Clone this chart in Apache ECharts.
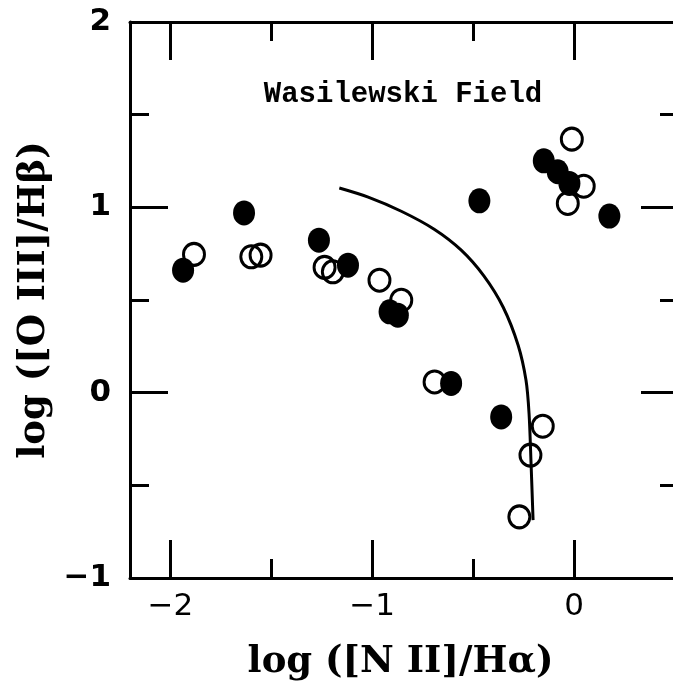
<!doctype html>
<html lang="en">
<head>
  <meta charset="UTF-8">
  <title>Wasilewski Field</title>
  <script src="https://cdn.jsdelivr.net/npm/echarts@6/dist/echarts.min.js"></script>
  <style>
    html, body { margin: 0; padding: 0; background: #fff; }
    #chart { width: 673px; height: 696px; }
  </style>
</head>
<body>
<div id="chart"></div>
<script>
  // filled circles
  var filledN2 = [-1.937, -1.635, -1.264, -1.120, -0.914, -0.873, -0.609, -0.469, -0.361, -0.150, -0.081, -0.023, 0.175];
  var filledO3 = [0.661, 0.970, 0.823, 0.688, 0.436, 0.418, 0.050, 1.035, -0.131, 1.251, 1.192, 1.129, 0.953];
  // open circles
  var openN2 = [-1.883, -1.599, -1.553, -1.236, -1.195, -0.964, -0.856, -0.691, -0.271, -0.216, -0.155, -0.031, -0.011, 0.048];
  var openO3 = [0.746, 0.733, 0.742, 0.676, 0.652, 0.607, 0.499, 0.058, -0.670, -0.337, -0.181, 1.021, 1.368, 1.114];
  // boundary curve
  var curveN2 = [-1.163, -1.020, -0.856, -0.693, -0.559, -0.446, -0.351, -0.277, -0.238, -0.223, -0.213, -0.203];
  var curveO3 = [1.104, 1.055, 0.979, 0.882, 0.769, 0.629, 0.461, 0.256, 0.067, -0.111, -0.381, -0.688];

  var xMin = -2.2, xMax = 0.52;
  var yMin = -1, yMax = 2;

  function pairs(xs, ys) {
    return xs.map(function (x, i) { return [x, ys[i]]; });
  }

  function minus(v) {
    return String(v).replace('-', '\u2212');
  }

  var ink = '#000';

  function xAxisDef(pos, major) {
    return {
      type: 'value', position: pos, min: xMin, max: xMax,
      minInterval: major ? 1 : 0.5, maxInterval: major ? 1 : 0.5,
      splitLine: { show: false },
      axisLine: { show: major, onZero: false, lineStyle: { color: ink, width: 3 } },
      axisTick: { show: true, inside: true, length: major ? 38 : 19, lineStyle: { color: ink, width: 3 } },
      axisLabel: {
        show: major && pos === 'bottom', margin: 13, color: ink,
        fontFamily: 'DejaVu Sans', fontSize: 31,
        formatter: function (v) { return Math.abs(v - Math.round(v)) < 1e-6 ? minus(v) : ''; }
      },
      name: major && pos === 'bottom' ? 'log ([N II]/H\u03b1)' : '',
      nameLocation: 'middle', nameGap: 66,
      nameTextStyle: { fontFamily: 'DejaVu Serif', fontWeight: 'bold', fontSize: 37, color: ink, padding: [0, 8, 0, 0] }
    };
  }

  function yAxisDef(pos) {
    return {
      type: 'value', position: pos, min: yMin, max: yMax, interval: 1,
      splitLine: { show: false },
      axisLine: { show: true, onZero: false, lineStyle: { color: ink, width: 3 } },
      axisTick: { show: true, inside: true, length: 38, lineStyle: { color: ink, width: 3 } },
      minorTick: { show: true, splitNumber: 2, length: 19, lineStyle: { color: ink, width: 3 } },
      axisLabel: {
        show: pos === 'left', margin: 19, color: ink,
        fontFamily: 'DejaVu Sans', fontWeight: 'bold', fontSize: 31,
        formatter: function (v) { return minus(v); }
      },
      name: pos === 'left' ? 'log ([O III]/H\u03b2)' : '',
      nameLocation: 'middle', nameGap: 74,
      nameTextStyle: { fontFamily: 'DejaVu Serif', fontWeight: 'bold', fontSize: 37, color: ink }
    };
  }

  var chart = echarts.init(document.getElementById('chart'));
  var option = {
    backgroundColor: '#fff',
    animation: false,
    grid: { left: 130, top: 22, width: 549, height: 556, containLabel: false, outerBoundsMode: 'none' },
    xAxis: [xAxisDef('bottom', true), xAxisDef('bottom', false), xAxisDef('top', true), xAxisDef('top', false)],
    yAxis: [yAxisDef('left'), yAxisDef('right')],
    graphic: [{
      type: 'text', x: 403, y: 95,
      style: {
        text: 'Wasilewski Field',
        font: 'bold 29px "Liberation Mono"', fill: ink,
        align: 'center', verticalAlign: 'middle'
      }
    }],
    series: [
      {
        type: 'scatter', name: 'open', xAxisIndex: 0, yAxisIndex: 0,
        data: pairs(openN2, openO3),
        symbol: 'circle', symbolSize: [21, 22],
        itemStyle: { color: 'rgba(0,0,0,0)', borderColor: ink, borderWidth: 3, opacity: 1 },
        z: 2
      },
      {
        type: 'line', name: 'curve', xAxisIndex: 0, yAxisIndex: 0,
        data: pairs(curveN2, curveO3),
        smooth: 0.3, showSymbol: false,
        lineStyle: { color: ink, width: 3 },
        z: 3
      },
      {
        type: 'scatter', name: 'filled', xAxisIndex: 0, yAxisIndex: 0,
        data: pairs(filledN2, filledO3),
        symbol: 'circle', symbolSize: [22, 25],
        itemStyle: { color: ink, opacity: 1 },
        z: 4
      }
    ]
  };
  chart.setOption(option);
</script>
</body>
</html>
